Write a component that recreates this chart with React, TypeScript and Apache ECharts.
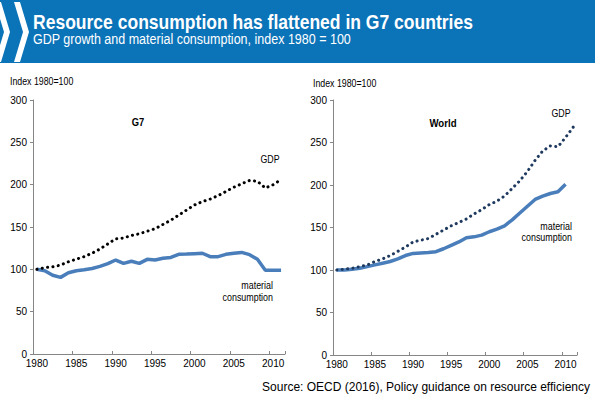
import React, { useEffect, useRef } from "react";
import * as echarts from "echarts";

const years = ["1980","1981","1982","1983","1984","1985","1986","1987","1988","1989","1990","1991","1992","1993","1994","1995","1996","1997","1998","1999","2000","2001","2002","2003","2004","2005","2006","2007","2008","2009","2010","2011"];

const g7Gdp = [100,102,103,105,109,112,115,119,124,130,136,137,140,142,145,148,153,158,164,170,176,180,183,187,192,197,201,205,204,196,200,206];
const g7Material = [100,98.4,93,90.5,96,98.4,99.6,101,103.5,106.7,111,107,109.5,107,111.8,111,113,114,117.7,118,118.5,119,115,115,117.7,119,120,117.3,111.8,99,99,99];

const worldGdp = [100,101,102,104,106,110,113,117,122,127,133,135,137,142,147,152,156,160,166,171,177,181,187,196,205,216,229,240,246,245,256,268];
const worldMaterial = [100,100,101,102,104,106,108,110,113,117,119.5,120,120.5,121.5,125,129,133,138,139,141,145,148,152,159,167,175,183,187,190,192,201,null];

const yTicks = { min: 0, max: 300, interval: 50 };

const BLUE_HEADER = "#0b73b8";
const MAT_COLOR = "#4a7ebb";
const NARROW = "'Liberation Sans Narrow', 'Arial Narrow', 'Liberation Sans', Arial, sans-serif";
const SANS = "'Liberation Sans', Arial, sans-serif";

function xAxis(gridIndex: number) {
  return {
    type: "category",
    gridIndex,
    data: years,
    boundaryGap: true,
    axisLine: { show: true, lineStyle: { color: "#868686", width: 1 } },
    axisTick: { show: true, inside: true, length: 3, interval: 4, lineStyle: { color: "#868686" } },
    axisLabel: { interval: 4, fontSize: 10, fontFamily: NARROW, color: "#000", margin: 4 },
    splitLine: { show: false },
  };
}

function yAxis(gridIndex: number) {
  return {
    type: "value",
    gridIndex,
    min: yTicks.min,
    max: yTicks.max,
    interval: yTicks.interval,
    axisLine: { show: true, lineStyle: { color: "#868686", width: 1 } },
    axisTick: { show: true, inside: false, length: 3, lineStyle: { color: "#868686" } },
    axisLabel: { fontSize: 10, fontFamily: NARROW, color: "#000", margin: 6 },
    splitLine: { show: false },
  };
}

function txt(text: string, x: number, y: number, opts: any = {}) {
  return {
    type: "text",
    x,
    y,
    scaleX: opts.scaleX ?? 1,
    silent: true,
    style: {
      text,
      fill: opts.fill ?? "#000",
      font: `${opts.weight ?? "normal"} ${opts.size ?? 11}px ${opts.family ?? SANS}`,
      textAlign: opts.align ?? "left",
      textVerticalAlign: "middle",
    },
  };
}

export default function App() {
  const ref = useRef<HTMLDivElement>(null);
  useEffect(() => {
    if (!ref.current) return;
    const chart = echarts.init(ref.current, null, { renderer: "svg" });
    chart.setOption({
      animation: false,
      backgroundColor: "#ffffff",
      grid: [
        { left: 33, top: 100, width: 252, height: 254 },
        { left: 333, top: 100, width: 244, height: 255 },
      ],
      xAxis: [xAxis(0), xAxis(1)],
      yAxis: [yAxis(0), yAxis(1)],
      series: [
        {
          type: "line", xAxisIndex: 0, yAxisIndex: 0, data: g7Material, showSymbol: false,
          lineStyle: { color: MAT_COLOR, width: 3.5 }, z: 2,
        },
        {
          type: "line", xAxisIndex: 0, yAxisIndex: 0, data: g7Gdp, showSymbol: false,
          lineStyle: { color: "#000", width: 3, type: [0.1, 5.3], cap: "round" }, z: 3,
        },
        {
          type: "line", xAxisIndex: 1, yAxisIndex: 1, data: worldMaterial, showSymbol: false,
          lineStyle: { color: MAT_COLOR, width: 3.5 }, z: 2,
        },
        {
          type: "line", xAxisIndex: 1, yAxisIndex: 1, data: worldGdp, showSymbol: false,
          lineStyle: { color: "#1f3a5f", width: 3, type: [0.1, 5.3], cap: "round" }, z: 3,
        },
      ],
      graphic: [
        { type: "rect", shape: { x: 0, y: 0, width: 595, height: 63 }, style: { fill: BLUE_HEADER }, silent: true },
        { type: "polygon", shape: { points: [[-5, 2], [1, 2], [10, 32], [1, 62], [-5, 62], [4, 32]] }, style: { fill: "#fff" }, silent: true },
        { type: "polygon", shape: { points: [[14, 2], [20, 2], [29, 32], [20, 62], [14, 62], [23, 32]] }, style: { fill: "#fff" }, silent: true },
        txt("Resource consumption has flattened in G7 countries", 33, 22, { size: 20, weight: "bold", fill: "#fff", scaleX: 0.876 }),
        txt("GDP growth and material consumption, index 1980 = 100", 33, 39, { size: 15, fill: "#fff", scaleX: 0.835 }),
        txt("Index 1980=100", 10, 81, { size: 10, scaleX: 0.88 }),
        txt("Index 1980=100", 313, 83, { size: 10, scaleX: 0.88 }),
        txt("G7", 138, 122, { size: 11, weight: "bold", align: "center", scaleX: 0.85 }),
        txt("World", 443, 123, { size: 11, weight: "bold", align: "center", scaleX: 0.875 }),
        txt("GDP", 270, 159, { size: 11, align: "center", scaleX: 0.8 }),
        txt("GDP", 561, 113, { size: 11, align: "center", scaleX: 0.8 }),
        txt("material", 273, 285, { size: 11, align: "right", scaleX: 0.81 }),
        txt("consumption", 273, 297, { size: 11, align: "right", scaleX: 0.81 }),
        txt("material", 572, 226, { size: 11, align: "right", scaleX: 0.81 }),
        txt("consumption", 572, 237, { size: 11, align: "right", scaleX: 0.81 }),
        txt("Source: OECD (2016), Policy guidance on resource efficiency", 590, 387, { size: 12, align: "right" }),
      ],
    });
    return () => chart.dispose();
  }, []);
  return (
    <div
      ref={ref}
      style={{ position: "fixed", left: 0, top: 0, width: 595, height: 398, background: "#fff" }}
    />
  );
}
